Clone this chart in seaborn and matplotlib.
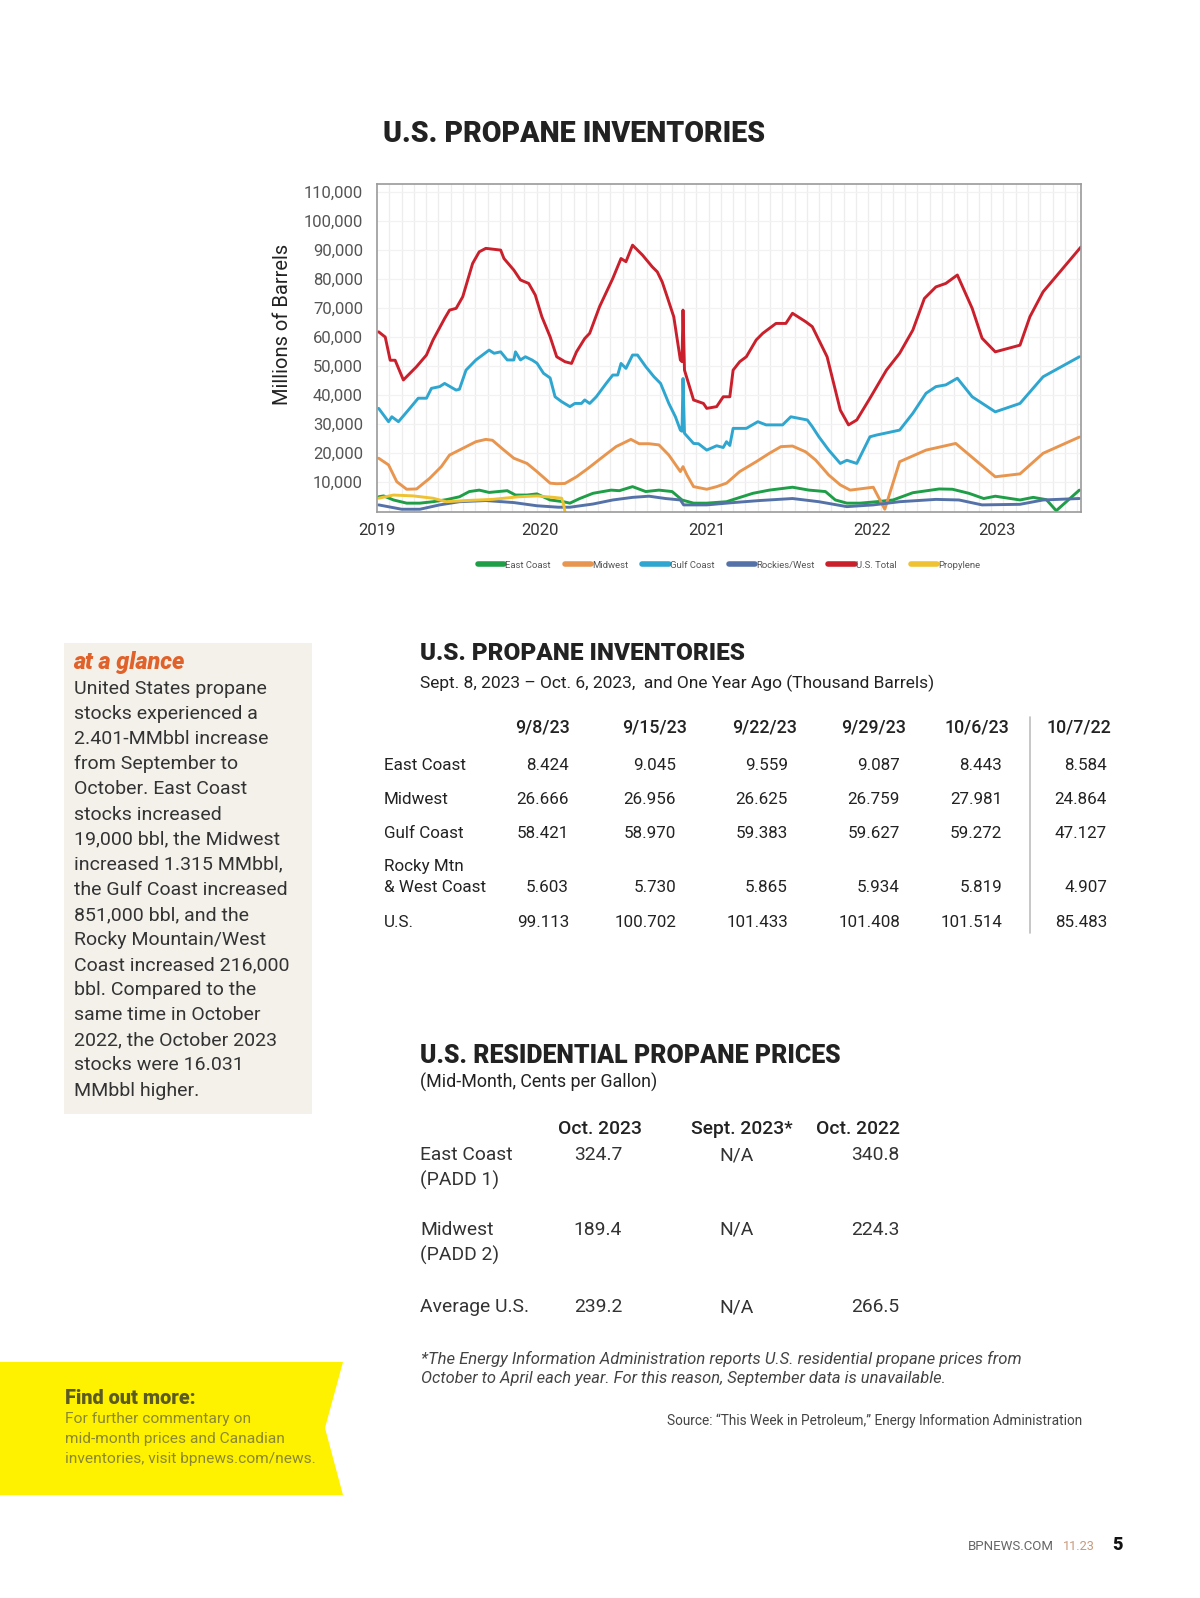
import numpy as np
import pandas as pd
import matplotlib
matplotlib.use('Agg')
import matplotlib.pyplot as plt
import seaborn as sns
from matplotlib import font_manager as fm
from matplotlib.patches import Polygon, Rectangle
from matplotlib.lines import Line2D
from matplotlib.ticker import FuncFormatter

# ------------------------------------------
# chart data (thousand barrels); t = position along the x axis (year units)
# ------------------------------------------
series_names = ['East Coast', 'Midwest', 'Gulf Coast', 'Rockies/West', 'U.S. Total', 'Propylene']
series_colors = ['#1f9e48', '#e8964f', '#2ea6cf', '#5572a8', '#c9202c', '#eec232']

year_labels = ['2019', '2020', '2021', '2022', '2023']
year_pos = [0.0, 0.99, 2.0, 3.0, 3.76]

east_t = [0.01, 0.04, 0.10, 0.18, 0.26, 0.34, 0.42, 0.50, 0.56, 0.62, 0.68, 0.79, 0.84, 0.91, 0.97,
          1.05, 1.13, 1.17, 1.23, 1.31, 1.42, 1.47, 1.55, 1.63, 1.71, 1.79, 1.85, 1.92, 2.00, 2.12,
          2.18, 2.28, 2.38, 2.52, 2.62, 2.72, 2.78, 2.85, 2.93, 3.03, 3.13, 3.25, 3.41, 3.49, 3.59,
          3.68, 3.75, 3.90, 3.98, 4.06, 4.12, 4.26]
east_v = [4.9, 5.2, 3.8, 2.7, 2.7, 3.2, 3.9, 4.9, 6.7, 7.2, 6.4, 7.0, 5.5, 5.5, 5.9,
          3.8, 3.2, 2.7, 4.3, 6.1, 7.2, 7.0, 8.4, 6.7, 7.2, 6.7, 3.8, 2.7, 2.7, 3.2,
          4.3, 6.1, 7.2, 8.2, 7.2, 6.7, 3.8, 2.7, 2.7, 3.2, 3.8, 6.3, 7.6, 7.5, 6.1,
          4.3, 5.1, 3.8, 4.7, 3.9, 0.1, 7.2]

midwest_t = [0.01, 0.07, 0.12, 0.18, 0.24, 0.32, 0.39, 0.44, 0.52, 0.60, 0.66, 0.70, 0.77, 0.83, 0.91,
             0.97, 1.05, 1.09, 1.14, 1.21, 1.28, 1.37, 1.45, 1.54, 1.59, 1.65, 1.71, 1.77, 1.84, 1.856,
             1.88, 1.92, 2.00, 2.06, 2.12, 2.20, 2.30, 2.38, 2.45, 2.52, 2.60, 2.66, 2.74, 2.81, 2.87,
             3.01, 3.08, 3.17, 3.33, 3.51, 3.75, 3.90, 4.04, 4.26]
midwest_v = [18.2, 15.9, 10.1, 7.5, 7.6, 11.3, 15.3, 19.3, 21.6, 23.9, 24.7, 24.4, 21.0, 18.2, 16.4,
             13.6, 9.6, 9.4, 9.5, 11.8, 14.7, 18.7, 22.2, 24.7, 23.2, 23.2, 22.8, 19.3, 13.6, 15.3,
             12.4, 8.4, 7.5, 8.4, 9.6, 13.6, 17.0, 19.9, 22.2, 22.4, 20.4, 17.6, 12.4, 9.0, 7.2,
             8.2, 0.6, 17.0, 21.0, 23.3, 11.8, 12.8, 19.9, 25.5]

gulf_t = [0.01, 0.07, 0.09, 0.13, 0.19, 0.25, 0.30, 0.33, 0.38, 0.41, 0.48, 0.50, 0.54, 0.60, 0.68,
          0.71, 0.75, 0.79, 0.83, 0.84, 0.87, 0.90, 0.94, 0.97, 1.01, 1.05, 1.08, 1.12, 1.17, 1.20,
          1.24, 1.26, 1.29, 1.33, 1.39, 1.43, 1.46, 1.48, 1.51, 1.55, 1.58, 1.63, 1.68, 1.72, 1.77,
          1.81, 1.84, 1.85, 1.856, 1.865, 1.92, 1.95, 2.00, 2.06, 2.10, 2.12, 2.14, 2.16, 2.24, 2.31,
          2.36, 2.46, 2.51, 2.61, 2.64, 2.68, 2.74, 2.81, 2.85, 2.91, 2.99, 3.03, 3.17, 3.25, 3.33,
          3.39, 3.45, 3.52, 3.61, 3.75, 3.90, 4.04, 4.26]
gulf_v = [35.4, 30.8, 32.5, 30.8, 34.8, 38.9, 38.9, 42.3, 42.9, 44.0, 41.7, 42.0, 48.6, 52.1, 55.5,
          54.4, 54.9, 52.1, 52.1, 54.9, 52.1, 53.2, 52.1, 51.0, 47.5, 45.9, 39.4, 37.7, 36.0, 37.1,
          37.1, 38.3, 37.1, 39.4, 44.0, 46.9, 46.9, 50.9, 49.2, 53.8, 53.8, 49.8, 46.3, 44.0, 37.1,
          32.5, 27.9, 27.5, 45.7, 26.8, 23.3, 23.2, 21.0, 22.5, 21.9, 23.9, 22.6, 28.5, 28.5, 30.8,
          29.7, 29.7, 32.5, 31.4, 29.1, 25.6, 21.0, 16.4, 17.5, 16.4, 25.6, 26.2, 27.9, 33.7, 40.6,
          42.9, 43.5, 45.8, 39.4, 34.2, 37.1, 46.3, 53.2]

rockies_t = [0.01, 0.15, 0.26, 0.38, 0.50, 0.66, 0.83, 0.97, 1.10, 1.17, 1.31, 1.43, 1.55, 1.65, 1.75,
             1.84, 1.86, 2.00, 2.16, 2.32, 2.52, 2.68, 2.85, 3.01, 3.17, 3.39, 3.53, 3.67, 3.90, 4.04, 4.26]
rockies_v = [2.1, 0.6, 0.6, 2.1, 3.2, 3.6, 2.9, 1.8, 1.3, 1.3, 2.4, 3.8, 4.7, 5.1, 4.3,
             3.8, 2.1, 2.1, 2.9, 3.6, 4.3, 3.2, 1.5, 2.1, 3.2, 4.0, 3.8, 2.1, 2.3, 3.8, 4.3]

total_t = [0.01, 0.05, 0.08, 0.11, 0.16, 0.24, 0.30, 0.34, 0.41, 0.44, 0.48, 0.52, 0.58, 0.62, 0.66,
           0.75, 0.77, 0.83, 0.87, 0.92, 0.96, 1.00, 1.05, 1.09, 1.14, 1.18, 1.21, 1.26, 1.29, 1.35,
           1.43, 1.48, 1.51, 1.55, 1.61, 1.67, 1.70, 1.73, 1.76, 1.80, 1.84, 1.85, 1.856, 1.865, 1.92,
           1.98, 2.00, 2.06, 2.10, 2.14, 2.16, 2.20, 2.24, 2.30, 2.34, 2.42, 2.48, 2.52, 2.60, 2.64,
           2.68, 2.73, 2.77, 2.81, 2.86, 2.91, 2.99, 3.09, 3.17, 3.25, 3.32, 3.39, 3.45, 3.52, 3.61,
           3.67, 3.75, 3.90, 3.96, 4.04, 4.27]
total_v = [61.8, 60.0, 52.0, 52.0, 45.2, 49.8, 53.8, 59.0, 66.4, 69.3, 69.9, 73.9, 85.4, 89.4, 90.6,
           90.0, 87.1, 83.1, 79.7, 78.5, 74.5, 67.0, 60.1, 53.2, 51.5, 50.9, 54.9, 59.5, 61.3, 70.5,
           80.2, 87.1, 86.0, 91.7, 88.3, 84.2, 82.5, 79.0, 73.9, 67.0, 52.1, 51.5, 69.3, 48.6, 38.3,
           37.1, 35.4, 36.0, 39.4, 39.4, 48.6, 51.5, 53.2, 59.0, 61.3, 64.7, 64.7, 68.2, 65.3, 63.6,
           59.0, 53.2, 44.0, 34.8, 29.7, 31.4, 38.9, 48.6, 54.4, 62.4, 73.3, 77.3, 78.5, 81.4, 69.9,
           59.6, 54.9, 57.2, 67.0, 75.6, 91.1]

propylene_t = [0.01, 0.10, 0.22, 0.34, 0.42, 0.54, 0.70, 0.86, 0.97, 1.07, 1.12, 1.13, 1.14]
propylene_v = [4.4, 5.5, 5.2, 4.4, 3.2, 3.6, 4.0, 4.9, 5.2, 4.7, 4.4, 2.7, -0.2]

# ------------------------------------------
# table data
# ------------------------------------------
inv_dates = ['9/8/23', '9/15/23', '9/22/23', '9/29/23', '10/6/23', '10/7/22']
inv_regions = ['East Coast', 'Midwest', 'Gulf Coast', 'Rocky Mtn\n& West Coast', 'U.S.']
inv_east = ['8.424', '9.045', '9.559', '9.087', '8.443', '8.584']
inv_midwest = ['26.666', '26.956', '26.625', '26.759', '27.981', '24.864']
inv_gulf = ['58.421', '58.970', '59.383', '59.627', '59.272', '47.127']
inv_rocky = ['5.603', '5.730', '5.865', '5.934', '5.819', '4.907']
inv_us = ['99.113', '100.702', '101.433', '101.408', '101.514', '85.483']

price_cols = ['Oct. 2023', 'Sept. 2023*', 'Oct. 2022']
price_regions = ['East Coast\n(PADD 1)', 'Midwest\n(PADD 2)', 'Average U.S.']
price_east = ['324.7', 'N/A', '340.8']
price_midwest = ['189.4', 'N/A', '224.3']
price_avg = ['239.2', 'N/A', '266.5']

glance_lines = ['United States propane', 'stocks experienced a', '2.401-MMbbl increase',
                'from September to', 'October. East Coast', 'stocks increased',
                '19,000 bbl, the Midwest', 'increased 1.315 MMbbl,', 'the Gulf Coast increased',
                '851,000 bbl, and the', 'Rocky Mountain/West', 'Coast increased 216,000',
                'bbl. Compared to the', 'same time in October', '2022, the October 2023',
                'stocks were 16.031', 'MMbbl higher.']

# ------------------------------------------
# figure
# ------------------------------------------
W, H = 1200, 1598
sns.set_theme(style='white')
installed = {f.name for f in fm.fontManager.ttflist}
NARROW = 'Liberation Sans Narrow' if 'Liberation Sans Narrow' in installed else 'Roboto'
plt.rcParams['font.family'] = ['Roboto', 'DejaVu Sans']

fig = plt.figure(figsize=(W / 100, H / 100), dpi=100)
fig.patch.set_facecolor('white')
rend = fig.canvas.get_renderer()


def put(x, y, s, width=None, size=12, **kw):
    kw.setdefault('va', 'center')
    t = fig.text(x / W, 1 - y / H, s, fontsize=size, **kw)
    if width:
        w = t.get_window_extent(renderer=rend).width
        t.set_fontsize(size * width / w)
    return t


# --- line chart ---
ax = fig.add_axes([377 / W, 1 - 512 / H, 704 / W, 328 / H])
parts = []
for name, tt, vv in zip(series_names,
                        [east_t, midwest_t, gulf_t, rockies_t, total_t, propylene_t],
                        [east_v, midwest_v, gulf_v, rockies_v, total_v, propylene_v]):
    parts.append(pd.DataFrame({'t': tt, 'v': np.array(vv) * 1000, 'series': name}))
df = pd.concat(parts, ignore_index=True)

sns.lineplot(data=df, x='t', y='v', hue='series', hue_order=series_names,
             palette=dict(zip(series_names, series_colors)), sort=False, estimator=None,
             lw=2.1, ax=ax)

ax.set_xlim(0, 4.27)
ax.set_ylim(-350, 112800)
ax.set_yticks(np.arange(10000, 110001, 10000))
ax.yaxis.set_major_formatter(FuncFormatter(lambda v, p: f'{int(v):,}'))
ax.set_xticks(year_pos)
ax.set_xticklabels(year_labels)
ax.set_xticks(np.arange(0, 4.27, 0.0745), minor=True)
ax.tick_params(axis='y', length=0, pad=10, labelsize=12, labelcolor='#555555')
ax.tick_params(axis='x', which='both', length=0, pad=8, labelsize=12, labelcolor='#333333')
ax.grid(axis='x', which='minor', color='#ededed', lw=0.9)
ax.grid(axis='x', which='major', visible=False)
ax.grid(axis='y', which='major', color='#f2f2f2', lw=0.9)
ax.set_axisbelow(True)
ax.set_xlabel('')
ax.set_ylabel('')
for sp in ax.spines.values():
    sp.set_color('#9a9a9a')
    sp.set_linewidth(1.2)

sns.move_legend(ax, 'center', bbox_to_anchor=(0.5, -0.162), ncol=6, frameon=False, title=None,
                fontsize=6.8, handlelength=2.8, handletextpad=0.1, columnspacing=1.5)
for h in ax.get_legend().legend_handles:
    h.set_linewidth(4)
for txt in ax.get_legend().get_texts():
    txt.set_color('#555555')

put(282, 324, 'Millions of Barrels', size=14.5, rotation=90, ha='center', color='#222222')
put(383, 134, 'U.S. PROPANE INVENTORIES', width=382, size=22, ha='left', weight='heavy',
    family=[NARROW, 'DejaVu Sans'], color='#222222')

# --- sidebar ---
fig.add_artist(Rectangle((64 / W, 1 - 1114 / H), 248 / W, 471 / H, transform=fig.transFigure,
                         facecolor='#f4f1eb', edgecolor='none', zorder=0))
put(73, 663, 'at a glance', width=112, size=15, ha='left', weight='heavy', style='italic',
    color='#e0622a')
ref = put(74, 689 + 25.1 * 8, glance_lines[8], width=214, size=14, ha='left', color='#333333')
body_size = ref.get_fontsize()
ref.remove()
for i, line in enumerate(glance_lines):
    put(74, 689 + 25.1 * i, line, size=body_size, ha='left', color='#333333')

# --- inventory table ---
put(420, 654, 'U.S. PROPANE INVENTORIES', width=325, size=20, ha='left', weight='heavy',
    family=[NARROW, 'DejaVu Sans'], color='#222222')
put(420, 683, 'Sept. 8, 2023 \u2013 Oct. 6, 2023,  and One Year Ago (Thousand Barrels)', width=514,
    size=12, ha='left', family=[NARROW, 'DejaVu Sans'], color='#222222')

head_x = [542, 655, 765, 874, 977, 1079]
num_right = [569, 676, 788, 900, 1002, 1107]
tref = put(384, 765, 'East Coast', width=82, size=13, ha='left', family=[NARROW, 'DejaVu Sans'])
tsize = tref.get_fontsize()
tref.remove()
for hx, d in zip(head_x, inv_dates):
    put(hx, 728, d, size=tsize * 1.05, ha='center', family=[NARROW, 'DejaVu Sans'], color='#222222',
        weight='medium')
row_y = [765, 800, 833, 888, 922]
for ry, lab, vals in zip(row_y, inv_regions, [inv_east, inv_midwest, inv_gulf, inv_rocky, inv_us]):
    if '\n' in lab:
        a, b = lab.split('\n')
        put(384, ry - 21, a, size=tsize, ha='left', family=[NARROW, 'DejaVu Sans'], color='#222222')
        put(384, ry, b, size=tsize, ha='left', family=[NARROW, 'DejaVu Sans'], color='#222222')
    else:
        put(384, ry, lab, size=tsize, ha='left', family=[NARROW, 'DejaVu Sans'], color='#222222')
    for rx, v in zip(num_right, vals):
        put(rx, ry, v, size=tsize, ha='right', family=[NARROW, 'DejaVu Sans'], color='#222222')
fig.add_artist(Line2D([1030 / W, 1030 / W], [1 - 717 / H, 1 - 933 / H], color='#bdbdbd', lw=1.2))

# --- price table ---
put(420, 1056, 'U.S. RESIDENTIAL PROPANE PRICES', width=419, size=20, ha='left', weight='heavy',
    family=[NARROW, 'DejaVu Sans'], color='#222222')
put(420, 1082, '(Mid-Month, Cents per Gallon)', width=237, size=12, ha='left',
    family=[NARROW, 'DejaVu Sans'], color='#222222')
pref = put(420, 1155, 'East Coast', width=93, size=14, ha='left', color='#333333')
psize = pref.get_fontsize()
pref.remove()
put(600, 1129, price_cols[0], size=psize, ha='center', family=[NARROW, 'DejaVu Sans'], color='#222222',
    weight='medium')
put(742, 1129, price_cols[1], size=psize, ha='center', family=[NARROW, 'DejaVu Sans'], color='#222222',
    weight='medium')
put(900, 1129, price_cols[2], size=psize, ha='right', family=[NARROW, 'DejaVu Sans'], color='#222222',
    weight='medium')
for ry, lab, vals in zip([1155, 1230, 1307], price_regions, [price_east, price_midwest, price_avg]):
    for k, part in enumerate(lab.split('\n')):
        put(420, ry + 25.5 * k, part, size=psize, ha='left', color='#333333')
    put(598, ry, vals[0], size=psize, ha='center', color='#333333')
    put(737, ry, vals[1], size=psize, ha='center', color='#333333')
    put(899, ry, vals[2], size=psize, ha='right', color='#333333')

put(421, 1359, '*The Energy Information Administration reports U.S. residential propane prices from',
    width=599, size=11, ha='left', style='italic', family=[NARROW, 'DejaVu Sans'], color='#444444')
put(421, 1379, 'October to April each year. For this reason, September data is unavailable.',
    width=525, size=11, ha='left', style='italic', family=[NARROW, 'DejaVu Sans'], color='#444444')
put(1082, 1421, 'Source: \u201cThis Week in Petroleum,\u201d Energy Information Administration',
    width=417, size=10, ha='right', family=[NARROW, 'DejaVu Sans'], color='#444444')

# --- yellow banner ---
fig.add_artist(Polygon([(0, 1 - 1362 / H), (343 / W, 1 - 1362 / H), (325 / W, 1 - 1428 / H),
                        (343 / W, 1 - 1495 / H), (0, 1 - 1495 / H)], closed=True,
                       transform=fig.transFigure, facecolor='#fff200', edgecolor='none', zorder=0))
put(65, 1398, 'Find out more:', width=131, size=14, ha='left', weight='heavy', color='#5b5a22')
bref = put(65, 1459, 'inventories, visit bpnews.com/news.', width=249, size=11, ha='left', color='#8a8832')
bsize = bref.get_fontsize()
put(65, 1419, 'For further commentary on', size=bsize, ha='left', color='#8a8832')
put(65, 1439, 'mid-month prices and Canadian', size=bsize, ha='left', color='#8a8832')

# --- footer ---
put(968, 1547, 'BPNEWS.COM', width=86, size=9, ha='left', color='#666666')
put(1063, 1547, '11.23', width=32, size=9, ha='left', color='#c9997c')
put(1112, 1545, '5', size=13, ha='left', weight='heavy', color='#111111')

fig.savefig('out.png', dpi=100)
